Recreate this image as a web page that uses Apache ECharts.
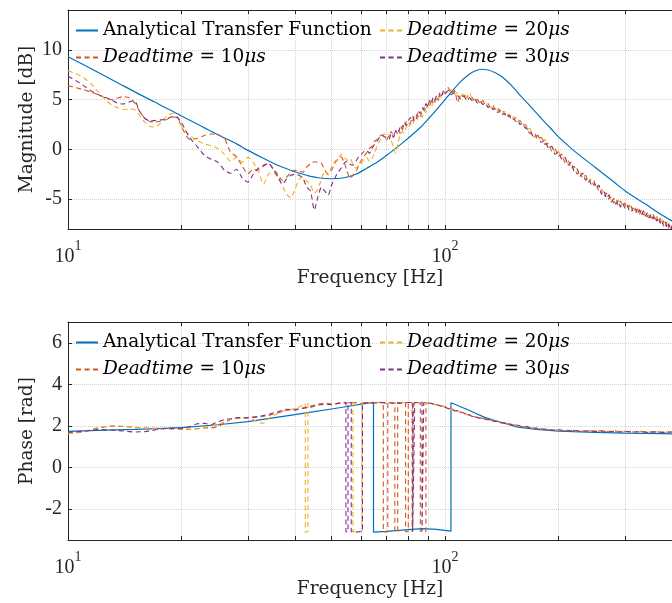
<!DOCTYPE html>
<html>
<head>
<meta charset="utf-8">
<script src="https://cdn.jsdelivr.net/npm/echarts@6/dist/echarts.min.js"></script>
<style>
  html, body { margin: 0; padding: 0; background: #ffffff; }
  #chart { width: 672px; height: 603px; }
</style>
</head>
<body>
<div id="chart"></div>
<script>
// ---- Measurement frequencies [Hz] shared by the three dead-time runs ----
const freqMeas = [
  10, 10.5, 11, 11.5, 12, 12.5, 13, 13.5, 14, 14.5, 15, 15.5, 16, 16.5, 17, 17.5, 18, 18.5, 19, 19.5, 20,
  21, 22, 23, 24, 25, 26, 27, 28, 29, 30, 31, 32, 33, 34, 35, 36, 37, 38, 39, 40,
  41, 42, 43, 44, 45, 46, 47, 48, 49, 50, 51, 52, 53, 54, 55, 56, 57, 58, 59, 60,
  61, 62, 63, 64, 65, 66, 67, 68, 69, 70,
  71, 72, 73, 74, 75, 76, 77, 78, 79, 80, 81, 82, 83, 84, 85, 86, 87, 88, 89, 90,
  91, 92, 93, 94, 95, 96, 97, 98, 99, 100,
  102, 104, 106, 108, 110, 112, 114, 116, 118, 120, 122, 124, 126, 128, 130,
  132, 134, 136, 138, 140, 142, 144, 146, 148, 150, 152, 154, 156, 158, 160,
  164, 168, 172, 176, 180, 184, 188, 192, 196, 200, 204, 208, 212, 216, 220, 224, 228, 232, 236, 240,
  244, 248, 252, 256, 260, 264, 268, 272, 276, 280, 284, 288, 292, 296, 300, 304, 308, 312, 316, 320,
  324, 328, 332, 336, 340, 344, 348, 352, 356, 360, 364, 368, 372, 376, 380, 384, 388, 392, 396, 400
];

// Measured magnitude [dB]
const mag10 = [
  6.4, 6.2, 6.0, 5.75, 5.5, 5.2, 5.0, 5.15, 5.3, 5.2, 4.7, 3.8, 3.1, 2.8, 2.75, 2.8, 2.9, 3.1, 3.25, 3.15, 2.3,
  1.0, 1.1, 1.4, 1.55, 1.45, 1.1, -0.3, -0.75, -1.7, -2.45, -2.0, -2.1, -1.7, -1.4, -1.9, -2.5, -3.1, -2.8, -2.3, -2.1,
  -2.2, -2.3, -1.75, -1.45, -1.25, -1.3, -1.4, -2.1, -2.45, -2.1, -1.4, -1.0, -0.75, -1.3, -2.2, -2.9, -2.6, -2.3, -1.6, -1.1,
  -0.7, -0.3, 0.1, 0.3, 0.8, 1.0, 1.3, 1.45, 1.2, 0.95,
  1.4, 1.8, 1.3, 1.9, 2.0, 1.6, 2.4, 2.2, 2.8, 2.5, 2.7, 3.3, 2.9, 3.4, 3.7, 3.3, 3.9, 4.2, 3.9, 4.5,
  4.3, 4.9, 4.6, 5.0, 5.3, 4.9, 5.5, 5.4, 5.9, 5.6,
  6.2, 5.6, 5.9, 4.7, 5.5, 5.3, 5.6, 4.9, 5.2, 4.8, 5.0, 4.6, 4.9, 4.5, 4.6,
  4.2, 4.4, 4.0, 4.2, 3.7, 3.9, 3.5, 3.7, 3.3, 3.4, 3.0, 3.2, 2.8, 2.9, 2.6,
  2.4, 1.6, 1.7, 1.0, 1.2, 0.5, 0.6, -0.2, 0.0, -0.7, -0.5, -1.3, -1.1, -1.9, -1.7, -2.5, -2.2, -2.9, -2.6, -3.3,
  -3.0, -3.6, -3.4, -4.2, -4.0, -4.7, -4.4, -5.0, -4.8, -5.4, -5.0, -5.6, -5.2, -5.7, -5.4, -5.9, -5.6, -6.2, -5.9, -6.3,
  -6.0, -6.5, -6.1, -6.6, -6.3, -6.8, -6.4, -6.9, -6.5, -7.0, -6.7, -7.3, -6.9, -7.5, -7.2, -7.7, -7.3, -7.9, -7.5, -8.0
];
const mag20 = [
  7.9, 7.6, 7.2, 6.6, 5.8, 5.1, 4.5, 4.2, 4.0, 4.05, 4.0, 3.4, 2.7, 2.3, 2.25, 2.55, 3.1, 3.5, 3.6, 3.3, 2.3,
  1.4, 0.9, 0.55, 0.35, 0.1, -0.5, -1.2, -0.8, -1.3, -0.8, -1.3, -2.2, -3.5, -2.5, -2.3, -2.8, -3.6, -4.5, -4.9, -4.0,
  -3.0, -2.8, -3.2, -3.6, -4.4, -4.0, -3.0, -2.2, -2.6, -1.8, -1.2, -1.0, -0.5, -0.8, -1.1, -0.9, -1.5, -1.9, -1.6, -1.4,
  -1.0, -0.8, -1.2, -0.9, -0.4, 0.3, 0.8, 1.2, 1.6, 1.3,
  1.5, 0.9, 0.2, -0.4, 0.6, 1.4, 1.8, 1.6, 2.3, 2.1, 2.6, 2.4, 3.0, 2.8, 3.3, 3.5, 3.2, 3.9, 3.7, 4.2,
  4.5, 4.2, 4.8, 4.6, 5.1, 5.0, 5.4, 5.2, 5.6, 5.8,
  5.6, 6.0, 5.5, 5.7, 5.3, 5.6, 5.2, 5.7, 5.1, 5.0, 4.7, 4.9, 4.6, 4.8, 4.3,
  4.5, 4.1, 4.3, 3.9, 4.0, 3.6, 3.8, 3.4, 3.5, 3.1, 3.3, 2.9, 3.0, 2.6, 2.7,
  2.0, 2.1, 1.2, 1.5, 0.8, 1.0, 0.2, 0.3, -0.4, -0.2, -0.9, -0.8, -1.5, -1.4, -2.1, -1.9, -2.7, -2.4, -3.0, -2.8,
  -3.4, -3.1, -3.9, -3.7, -4.4, -4.1, -4.8, -4.5, -5.2, -4.9, -5.4, -5.1, -5.7, -5.3, -5.8, -5.5, -6.1, -5.7, -6.3, -5.9,
  -6.4, -6.0, -6.5, -6.2, -6.7, -6.3, -6.8, -6.5, -6.9, -6.6, -7.1, -6.8, -7.4, -7.0, -7.6, -7.3, -7.8, -7.4, -8.0, -7.6
];
const mag30 = [
  7.35, 6.9, 6.4, 5.9, 5.5, 5.25, 5.0, 4.65, 4.55, 4.75, 4.9, 3.8, 3.1, 2.85, 2.9, 2.95, 3.0, 3.15, 3.3, 3.2, 2.7,
  1.2, 0.3, -0.6, -1.0, -1.3, -2.1, -2.4, -2.0, -2.9, -3.3, -2.5, -1.9, -1.6, -1.4, -2.0, -2.7, -3.5, -3.0, -2.6, -2.5,
  -2.6, -2.9, -3.8, -4.2, -6.1, -4.8, -3.8, -4.2, -4.6, -3.6, -2.9, -2.3, -1.9, -1.4, -1.2, -1.5, -1.6, -1.2, -0.75, -0.5,
  -0.2, -0.1, -0.4, 0.1, 0.5, 0.8, 1.2, 1.45, 1.3, 1.1,
  1.0, 1.6, 1.2, 1.9, 1.5, 2.2, 1.9, 2.7, 2.4, 2.9, 3.2, 2.8, 3.4, 3.1, 3.8, 3.6, 4.2, 3.9, 4.6, 4.3,
  4.9, 4.6, 5.2, 4.9, 5.4, 5.2, 5.7, 5.4, 5.9, 5.6,
  5.9, 5.5, 5.7, 5.4, 5.1, 5.4, 5.0, 5.2, 4.9, 5.1, 4.6, 4.8, 4.5, 4.6, 4.2,
  4.4, 4.0, 4.1, 3.7, 3.9, 3.5, 3.6, 3.2, 3.4, 3.0, 3.1, 2.8, 2.9, 2.5, 2.6,
  2.1, 1.9, 1.2, 1.4, 0.7, 0.9, 0.1, 0.3, -0.5, -0.3, -1.0, -0.8, -1.6, -1.3, -2.2, -2.0, -2.7, -2.4, -3.1, -2.9,
  -3.5, -3.2, -3.9, -3.6, -4.5, -4.2, -4.9, -4.6, -5.3, -5.0, -5.5, -5.2, -5.8, -5.4, -5.9, -5.6, -6.1, -5.8, -6.3, -6.0,
  -6.5, -6.1, -6.6, -6.2, -6.7, -6.4, -6.9, -6.5, -7.0, -6.7, -7.2, -6.9, -7.4, -7.1, -7.7, -7.3, -7.9, -7.5, -8.1, -7.7
];

// ---- Analytical transfer function ----
const freqModel = [10, 11, 12, 13, 14, 15, 16, 17, 18, 19, 20, 22, 24, 26, 28, 30, 33, 36, 40, 43, 46, 50,
  54, 58, 62, 66, 70, 74, 78, 82, 86, 90, 95, 100, 105, 110, 115, 120, 125, 130, 135, 140,
  145, 150, 155, 160, 165, 170, 180, 190, 200, 220, 250, 280, 300, 340, 380, 400];
const magModel = [9.3, 8.5, 7.75, 7.05, 6.4, 5.8, 5.25, 4.75, 4.25, 3.8, 3.35, 2.55, 1.8, 1.15, 0.55, -0.1, -0.9, -1.6, -2.25, -2.6, -2.85, -2.95,
  -2.85, -2.5, -1.9, -1.3, -0.6, 0.1, 0.8, 1.5, 2.2, 3.0, 4.0, 5.0, 5.95, 6.8, 7.45, 7.87, 8.05, 7.97, 7.75, 7.42,
  6.97, 6.42, 5.82, 5.22, 4.7, 4.15, 3.12, 2.17, 1.25, -0.15, -1.8, -3.25, -4.15, -5.5, -6.7, -7.2];

// Phase [rad] as [frequency, phase] pairs (wrapped to ±π)
const phaseModel = [[10, 1.73], [12, 1.78], [15, 1.83], [18, 1.88], [20, 1.91], [25, 2.05], [30, 2.2], [35, 2.38],
  [40, 2.54], [45, 2.68], [50, 2.81], [55, 2.93], [60, 3.04], [64.6, 3.13], [64.6, -3.12], [70, -3.08], [80, -3.0],
  [87, -2.95], [95, -2.99], [103.7, -3.07], [103.7, 3.11], [110, 2.92], [115, 2.77], [120, 2.62], [127, 2.42],
  [135, 2.26], [145, 2.1], [156, 1.94], [175, 1.83], [200, 1.74], [250, 1.68], [300, 1.65], [380, 1.62], [400, 1.61]];

const phase10 = [[10, 1.64], [11, 1.7], [12, 1.9], [13, 1.99], [14, 1.97], [15, 1.93], [16, 1.89], [17, 1.88], [18, 1.86],
  [19, 1.85], [20, 1.84], [21, 1.82], [22, 1.86], [23, 1.9], [24, 1.9], [25, 1.95], [26, 2.15], [27, 2.3], [28, 2.35],
  [30, 2.4], [32, 2.42], [34, 2.5], [36, 2.62], [38, 2.75], [40, 2.8], [42, 2.85], [44, 2.95], [46, 3.05], [48, 3.1],
  [50, 3.05], [52, 3.08], [54, 3.12], [56, 3.1], [58, 3.12], [60, 3.08], [63, 3.1], [66, 3.12], [68.6, 3.13], [68.6, -3.11],
  [70.5, -3.1], [70.5, 3.12], [73.6, 3.1], [73.6, -3.1], [74.9, -3.09], [74.9, 3.12], [78.6, 3.11], [78.6, -3.1],
  [79.9, -3.08], [79.9, 3.13], [81.8, 3.12], [81.8, -3.1], [82.6, -3.09], [82.6, 3.1], [86, 3.12], [86, -3.08],
  [89, -3.09], [89, 3.11], [92, 3.06], [94, 3.04], [96, 2.98], [98, 2.96], [100, 2.92], [102, 2.84], [104, 2.83],
  [106, 2.74], [108, 2.72], [110, 2.66], [112, 2.62], [114, 2.55], [116, 2.52], [118, 2.46], [120, 2.44], [123, 2.38],
  [126, 2.36], [129, 2.3], [132, 2.28], [135, 2.22], [138, 2.21], [141, 2.15], [145, 2.13], [150, 2.06], [155, 2.03],
  [160, 1.97], [165, 1.95], [170, 1.89], [175, 1.88], [180, 1.84], [185, 1.84], [190, 1.8], [200, 1.8], [210, 1.76],
  [220, 1.78], [230, 1.74], [240, 1.77], [250, 1.73], [260, 1.76], [270, 1.72], [280, 1.75], [290, 1.72], [300, 1.74],
  [315, 1.7], [330, 1.73], [345, 1.69], [360, 1.72], [380, 1.68], [400, 1.71]];

const phase20 = [[10, 1.62], [11, 1.72], [12, 1.92], [13, 2.0], [14, 1.98], [15, 1.92], [16, 1.88], [17, 1.86], [18, 1.86],
  [19, 1.87], [20, 1.86], [21, 1.84], [22, 1.85], [23, 1.92], [24, 2.0], [25, 2.05], [26, 2.2], [27, 2.3], [28, 2.36],
  [29, 2.4], [30, 2.35], [31, 2.3], [32, 2.15], [33, 2.12], [34, 2.35], [36, 2.6], [38, 2.76], [40, 2.82], [41, 2.9],
  [42, 3.0], [42.6, 3.08], [42.6, -3.12], [43.3, -3.1], [43.3, 3.1], [44, 2.95], [46, 3.0], [48, 3.05], [50, 3.02],
  [52, 3.08], [54, 3.1], [56, 3.12], [57, 3.13], [57, -3.11], [58.5, -3.1], [60.2, -3.08], [60.2, 3.12], [62, 3.1],
  [66, 3.12], [70, 3.08], [75, 3.11], [80, 3.12], [85, 3.1], [90, 3.1], [92, 3.05], [94, 3.02], [96, 3.0], [98, 2.94],
  [100, 2.9], [102, 2.86], [104, 2.8], [106, 2.76], [108, 2.7], [110, 2.67], [112, 2.6], [114, 2.57], [116, 2.5],
  [118, 2.48], [120, 2.42], [123, 2.4], [126, 2.34], [129, 2.32], [132, 2.26], [135, 2.24], [138, 2.18], [141, 2.17],
  [145, 2.11], [150, 2.08], [155, 2.01], [160, 1.99], [165, 1.93], [170, 1.9], [175, 1.86], [180, 1.85], [185, 1.82],
  [190, 1.82], [200, 1.78], [210, 1.79], [220, 1.75], [230, 1.77], [240, 1.73], [250, 1.76], [260, 1.72], [270, 1.75],
  [280, 1.71], [290, 1.74], [300, 1.71], [315, 1.73], [330, 1.7], [345, 1.72], [360, 1.69], [380, 1.72], [400, 1.69]];

const phase30 = [[10, 1.68], [11, 1.74], [12, 1.82], [13, 1.8], [14, 1.75], [15, 1.7], [16, 1.72], [17, 1.8], [18, 1.87],
  [19, 1.88], [20, 1.87], [21, 1.95], [22, 2.1], [23, 2.12], [24, 2.05], [25, 2.2], [26, 2.3], [27, 2.34], [28, 2.4],
  [30, 2.38], [32, 2.45], [34, 2.55], [36, 2.68], [38, 2.8], [40, 2.75], [42, 2.85], [44, 2.9], [46, 3.0], [48, 3.05],
  [50, 3.02], [52, 3.08], [54.6, 3.12], [54.6, -3.11], [55.3, -3.1], [55.3, 3.1], [56.4, 3.13], [56.4, -3.1], [58, -3.12],
  [60.4, -3.08], [60.4, 3.11], [65, 3.1], [70, 3.12], [75, 3.08], [80, 3.12], [82.1, 3.13], [82.1, -3.1], [83.1, -3.09],
  [83.1, 3.12], [86.9, 3.13], [86.9, -3.08], [87.8, -3.08], [87.8, 3.12], [90, 3.1], [92, 3.08], [94, 3.0], [96, 3.0],
  [98, 2.92], [100, 2.91], [102, 2.82], [104, 2.81], [106, 2.72], [108, 2.73], [110, 2.64], [112, 2.63], [114, 2.54],
  [116, 2.54], [118, 2.45], [120, 2.45], [123, 2.37], [126, 2.37], [129, 2.29], [132, 2.3], [135, 2.21], [138, 2.22],
  [141, 2.14], [145, 2.14], [150, 2.05], [155, 2.04], [160, 1.96], [165, 1.96], [170, 1.88], [175, 1.89], [180, 1.83],
  [185, 1.85], [190, 1.79], [200, 1.81], [210, 1.75], [220, 1.78], [230, 1.73], [240, 1.76], [250, 1.72], [260, 1.75],
  [270, 1.71], [280, 1.74], [290, 1.7], [300, 1.73], [315, 1.7], [330, 1.72], [345, 1.68], [360, 1.71], [380, 1.68], [400, 1.7]];

// ---- Axis ticks ----
const freqLabelTicks = [10, 100];
const freqGridTicks = [10, 20, 30, 40, 50, 60, 70, 80, 90, 100, 200, 300];
const magTicks = [-5, 0, 5, 10];
const phaseTicks = [-2, 0, 2, 4, 6];

const seriesNames = ['Analytical Transfer Function', 'Deadtime = 10μs', 'Deadtime = 20μs', 'Deadtime = 30μs'];
const seriesColors = ['#0072BD', '#D95319', '#EDB120', '#7E2F8E'];

const TEXT_FONT = 'DejaVu Serif';
const NUM_FONT = 'Liberation Serif';
const TEXT_SIZE = 18.5;
const AXIS_COLOR = '#262626';
const GRID_COLOR = '#d2d2d2';

const zip = (xs, ys) => xs.map((x, i) => [x, ys[i]]);

function freqAxis(gridIndex, top) {
  return {
    type: 'log', logBase: 10, gridIndex, position: top ? 'top' : 'bottom',
    min: 10, max: 400,
    name: top ? '' : 'Frequency [Hz]', nameLocation: 'middle', nameGap: 40, nameMoveOverlap: false,
    nameTextStyle: { fontFamily: TEXT_FONT, fontSize: TEXT_SIZE, color: AXIS_COLOR },
    axisLine: { show: true, onZero: false, lineStyle: { color: AXIS_COLOR, width: 1 } },
    axisTick: { show: true, inside: true, length: 4, customValues: freqGridTicks, lineStyle: { color: AXIS_COLOR, width: 1 } },
    splitLine: { show: !top, lineStyle: { color: GRID_COLOR, type: 'dotted', width: 1 } },
    axisLabel: {
      show: !top, customValues: freqLabelTicks, margin: 10,
      formatter: v => '{b|10}{s|' + Math.round(Math.log10(v)) + '}',
      rich: {
        b: { fontFamily: NUM_FONT, fontSize: 20, color: AXIS_COLOR, verticalAlign: 'bottom', lineHeight: 28 },
        s: { fontFamily: NUM_FONT, fontSize: 14, color: AXIS_COLOR, verticalAlign: 'top', lineHeight: 28 }
      }
    }
  };
}

function valueAxis(gridIndex, min, max, ticks, name) {
  return {
    type: 'value', gridIndex, min, max,
    name, nameLocation: 'middle', nameGap: 31, nameRotate: 90, nameMoveOverlap: false,
    nameTextStyle: { fontFamily: TEXT_FONT, fontSize: TEXT_SIZE, color: AXIS_COLOR },
    axisLine: { show: true, onZero: false, lineStyle: { color: AXIS_COLOR, width: 1 } },
    axisTick: { show: true, inside: true, length: 4, customValues: ticks, lineStyle: { color: AXIS_COLOR, width: 1 } },
    splitLine: { show: true, lineStyle: { color: GRID_COLOR, type: 'dotted', width: 1 } },
    axisLabel: { customValues: ticks, margin: 6, fontFamily: NUM_FONT, fontSize: 20, color: AXIS_COLOR,
      formatter: v => String(v) }
  };
}

function lineSeries(idx, data, xAxisIndex, yAxisIndex, smooth) {
  const dashed = idx > 0;
  return {
    type: 'line', name: seriesNames[idx], data, xAxisIndex, yAxisIndex,
    symbol: 'none', smooth, clip: true, silent: true,
    color: seriesColors[idx],
    lineStyle: { color: seriesColors[idx], width: dashed ? 1.1 : 1.2, type: dashed ? [5, 3.5] : 'solid' },
    emphasis: { disabled: true }
  };
}

function legendText(name) {
  const m = name.match(/^Deadtime = (\d+)μs$/);
  return m ? '{it|Deadtime} = ' + m[1] + '{it|μs}' : name;
}

function legend(left, top, names) {
  return {
    left, top, orient: 'vertical', data: names, padding: 0,
    itemWidth: 22, itemHeight: 10, itemGap: 8, selectedMode: false,
    itemStyle: { opacity: 0 },
    formatter: legendText,
    textStyle: {
      fontFamily: TEXT_FONT, fontSize: TEXT_SIZE, color: '#000', lineHeight: 19,
      rich: { it: { fontFamily: TEXT_FONT, fontSize: TEXT_SIZE, fontStyle: 'italic', color: '#000', lineHeight: 19 } }
    }
  };
}

const chart = echarts.init(document.getElementById('chart'), null, { renderer: 'canvas' });
chart.setOption({
  animation: false,
  backgroundColor: '#ffffff',
  grid: [
    { left: 68, top: 10, width: 612, height: 219 },
    { left: 68, top: 322, width: 612, height: 218 }
  ],
  xAxis: [freqAxis(0, false), freqAxis(0, true), freqAxis(1, false), freqAxis(1, true)],
  yAxis: [
    valueAxis(0, -8, 14, magTicks, 'Magnitude [dB]'),
    valueAxis(1, -3.5, 7, phaseTicks, 'Phase [rad]')
  ],
  legend: [
    legend(75, 21, [seriesNames[0], seriesNames[1]]),
    legend(379, 21, [seriesNames[2], seriesNames[3]]),
    legend(75, 333, [seriesNames[0], seriesNames[1]]),
    legend(379, 333, [seriesNames[2], seriesNames[3]])
  ],
  series: [
    lineSeries(0, zip(freqModel, magModel), 0, 0, 0.3),
    lineSeries(1, zip(freqMeas, mag10), 0, 0, 0.2),
    lineSeries(2, zip(freqMeas, mag20), 0, 0, 0.2),
    lineSeries(3, zip(freqMeas, mag30), 0, 0, 0.2),
    lineSeries(0, phaseModel, 2, 1, false),
    lineSeries(1, phase10, 2, 1, false),
    lineSeries(2, phase20, 2, 1, false),
    lineSeries(3, phase30, 2, 1, false)
  ]
});
</script>
</body>
</html>
